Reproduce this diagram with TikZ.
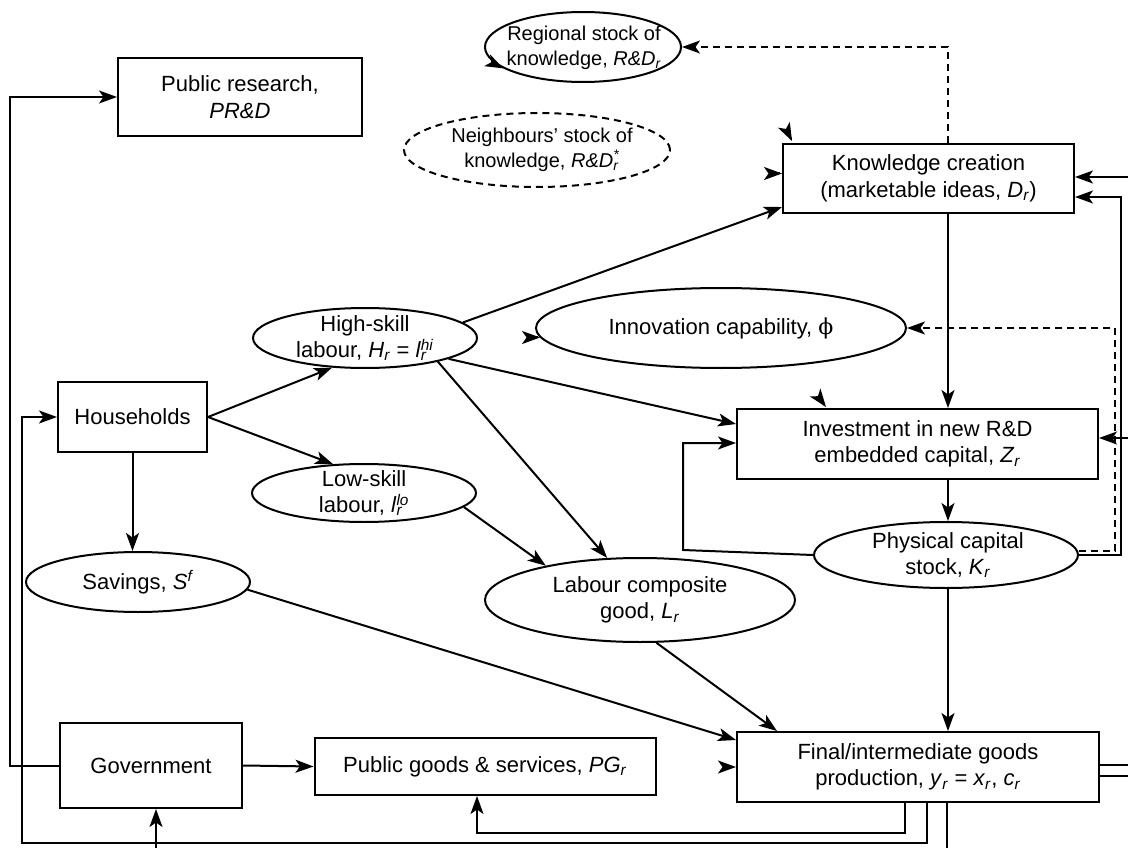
\documentclass[tikz,border=0pt]{standalone}
\usepackage{fontspec}
\setmainfont{Liberation Sans}
\newfontfamily\phifont{DejaVu Serif}
\usetikzlibrary{shapes.geometric,arrows.meta,calc}
\newcommand\sbr[1]{\textsubscript{\textit{#1}}}
\newcommand\spsb[2]{\makebox[0pt][l]{\textsubscript{\textit{#2}}}\textsuperscript{\textit{#1}}}
\begin{document}
\begin{tikzpicture}[x=1pt,y=-1pt,
  every node/.style={font=\fontsize{22}{26.5}\selectfont, align=center, inner sep=0pt, line width=2pt},
  box/.style={draw, rectangle},
  ell/.style={draw, ellipse},
  txt/.style={},
  smalltxt/.style={font=\fontsize{20}{24.5}\selectfont},
  arr/.style={-{Stealth[length=18pt,width=13pt,inset=4.5pt]}},
  darr/.style={arr, dash pattern=on 7pt off 5pt},
  dsh/.style={dash pattern=on 7pt off 5pt},
  line width=2pt]
\useasboundingbox (0,0) rectangle (1128,848);

% boxes
\node[box, minimum width=244pt, minimum height=78pt] (pr) at (240,97) {Public research,\\\textit{PR\&D}};
\node[box, minimum width=291pt, minimum height=69pt] (kc) at (928.5,178.5) {Knowledge creation\\(marketable ideas, \textit{D}\sbr{r})};
\node[box, minimum width=149pt, minimum height=70pt] (hh) at (132.5,417) {Households};
\node[box, minimum width=361pt, minimum height=70pt] (inv) at (917.5,444) {Investment in new R\&D\\embedded capital, \textit{Z}\sbr{r}};
\node[box, minimum width=182pt, minimum height=85pt] (gov) at (151,765.5) {Government};
\node[box, minimum width=341pt, minimum height=57pt] (pg) at (485,766.5) {Public goods \& services, \textit{PG}\sbr{r}};
\node[box, minimum width=362pt, minimum height=70pt] (fin) at (918,767) {Final/intermediate goods\\production, \textit{y}\sbr{r} = \textit{x}\sbr{r}, \textit{c}\sbr{r}};

% ellipses (outline) and their texts
\node[ell, minimum width=196pt, minimum height=70pt] (reg) at (583,47) {};
\node[txt, smalltxt] (regt) at (584,48) {Regional stock of\\knowledge, \textit{R\&D}\sbr{r}};
\node[ell, dsh, minimum width=266pt, minimum height=74pt] (nb) at (537,150) {};
\node[txt, smalltxt] (nbt) at (542,150) {Neighbours’ stock of\\knowledge, \textit{R\&D}\spsb{*}{r}};
\node[ell, minimum width=224pt, minimum height=60pt] (hs) at (365,338) {};
\node[txt] (hst) at (365,338) {High-skill\\labour, \textit{H}\sbr{r} = \textit{l}\spsb{hi}{r}};
\node[ell, minimum width=370pt, minimum height=80pt] (inn) at (721,328) {};
\node[txt] (innt) at (721,328) {Innovation capability, {\phifont\char"03D5}};
\node[ell, minimum width=224pt, minimum height=58pt] (ls) at (364,493) {};
\node[txt] (lst) at (364,493) {Low-skill\\labour, \textit{l}\spsb{lo}{r}};
\node[ell, minimum width=264pt, minimum height=66pt] (pc) at (946,555) {};
\node[txt] (pct) at (948,555) {Physical capital\\stock, \textit{K}\sbr{r}};
\node[ell, minimum width=224pt, minimum height=60pt] (sav) at (138,582) {};
\node[txt] (savt) at (138,582) {Savings, \textit{S}\textsuperscript{\textit{f}}};
\node[ell, minimum width=310pt, minimum height=84pt] (lab) at (640,600) {};
\node[txt] (labt) at (640,600) {Labour composite\\good, \textit{L}\sbr{r}};

% helper coordinates
\coordinate (L1) at (10,0);
\coordinate (L2) at (22,843);
\coordinate (b1) at (905,833);
\coordinate (b1l) at (477,833);
\coordinate (b2) at (927,843);
\coordinate (out3) at (947,848);
\coordinate (in4) at (156,848);
\coordinate (r1) at (1128,765);
\coordinate (r2) at (1128,776);
\coordinate (vx) at (948,0);
\coordinate (lp) at (683,550);
\coordinate (lpt) at (683,443);
\coordinate (rp) at (1121,555);
\coordinate (rpt) at (1121,197);
\coordinate (dx1) at (1115,551);
\coordinate (dx2) at (1115,328);
\coordinate (rin1) at (1128,177);
\coordinate (rin2) at (1128,438);
\coordinate (t2) at ($(kc.north west)+(10,-2)$);
\coordinate (t5) at ($(inv.north west)+(90,-1)$);

% connectors
\draw[arr] (gov.west) -- (gov.west -| L1) -- (pr.west -| L1) -- (pr.west);
\draw[arr] (fin.south -| b2) -- (b2) -- (L2) -- (L2 |- hh.west) -- (hh.west);
\draw[arr] (fin.south -| b1) -- (b1) -- (b1l) -- (b1l |- pg.south);
\draw (fin.south -| out3) -- (out3);
\draw[arr] (in4) -- (in4 |- gov.south);
\draw[arr] (gov.east) -- (pg.west);
\draw (fin.east |- r1) -- (r1);
\draw (fin.east |- r2) -- (r2);

\draw[arr] (lab.-69) -- ([xshift=41pt]fin.north west);
\draw[arr] (sav.-4) -- ([yshift=-9pt]fin.north west);
\draw[arr] (pc.south -| vx) -- (fin.north -| vx);
\draw[arr] (inv.south -| vx) -- (pc.north -| vx);
\draw[arr] (kc.south -| vx) -- (inv.north -| vx);
\draw[darr] (kc.north -| vx) |- (reg.east);
\draw[arr] (pc.west) -- (lp) -- (lpt) -- (inv.west |- lpt);
\draw[arr] (pc.east) -- (rp) -- (rpt) -- (kc.east |- rpt);
\draw[darr] ([yshift=4pt]pc.east) -- (dx1) -- (dx2) -- (inn.east);
\draw[arr] (rin1) -- (kc.east |- rin1);
\draw[arr] (rin2) -- (inv.east |- rin2);

\draw[arr] (hh.east) -- (hs.222);
\draw[arr] (hh.east) -- (ls.137);
\draw[arr] (hh.south) -- (hh.south |- sav.north);
\draw[arr] (hs.9) -- ([yshift=7pt]kc.south west);
\draw[arr] (hs.-14) -- ([yshift=-16pt]inv.north west);
\draw[arr] (hs.-18) -- (lab.128);
\draw[arr] (ls.-8) -- (lab.160);

% isolated arrow tips
\draw[arr] ([shift={(-2pt,1pt)}]reg.195) -- (reg.195);
\draw[arr] ([shift={(-1pt,2pt)}]t2) -- (t2);
\draw[arr] ([xshift=-2pt,yshift=5pt]kc.west) -- ([yshift=5pt]kc.west);
\draw[arr] ([xshift=-2pt]inn.183) -- (inn.183);
\draw[arr] ([shift={(-1.5pt,2pt)}]t5) -- (t5);
\draw[arr] ([xshift=-2pt]fin.west) -- (fin.west);
\end{tikzpicture}
\end{document}
